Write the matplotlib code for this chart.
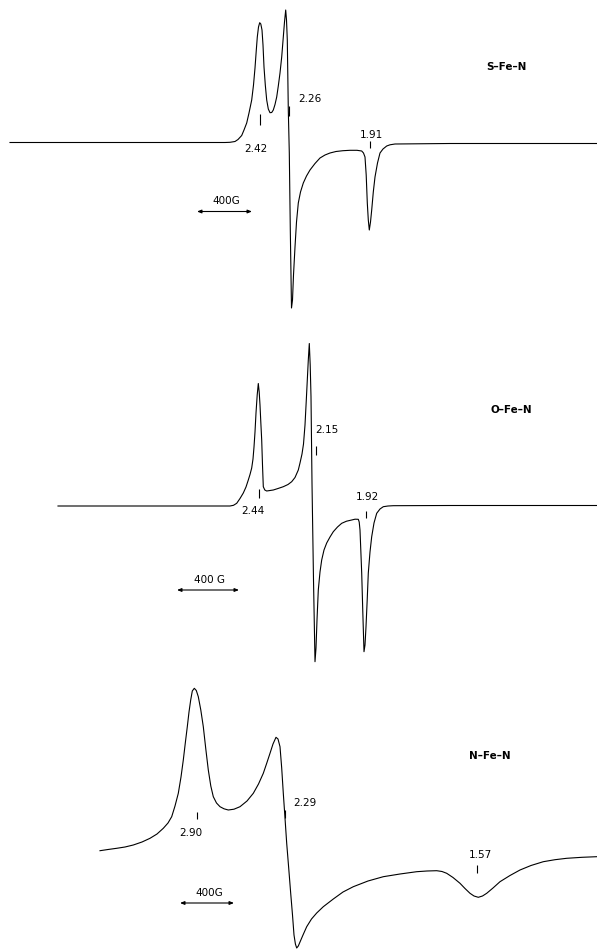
"""
EPR spectra of three Fe complexes (S-Fe-N, O-Fe-N, N-Fe-N), digitised trace by trace.
"""

import matplotlib
matplotlib.use('Agg')
import matplotlib.pyplot as plt

# --- traced spectra (field position, signal), picture units ---
s_fe_n_x = [10, 150, 225, 230, 235, 238, 241.7, 244, 246.7, 249, 251.7, 253.5, 255,
            256.3, 257.3, 258.5, 259.7, 260.8, 262, 263, 264, 265.3, 266.7, 268.3,
            270, 271.7, 273.3, 275, 276.7, 278.3, 280, 281.7, 283.3, 284.5, 285.7,
            286.5, 287.3, 288.3, 289.3, 290.3, 291.5, 292.5, 293.5, 295, 296.5,
            298.3, 300.5, 303.3, 306.5, 310, 315, 320, 325, 330, 336, 343, 350, 357,
            361.7, 363.5, 365, 366.2, 367.3, 368.3, 369.3, 370.5, 371.7, 373.3,
            375, 377.5, 380, 383, 386.7, 390, 395, 450, 597]
s_fe_n_y = [142.5, 142.5, 142.5, 142.3, 141.5, 139.5, 135.5, 130, 123, 113, 100, 85, 68,
            50, 37, 27, 22.7, 24, 30, 45, 67, 85, 100, 109,
            112.7, 112.5, 110, 104.5, 97, 86, 73, 57, 37, 22, 10,
            20, 40, 110, 153, 230, 308, 300, 275, 247, 222,
            203, 192, 183, 176, 170, 163.5, 158, 155, 153, 151.5, 150.7, 150.3, 150.3,
            151, 153, 157, 175, 203, 220, 230, 222, 210, 192,
            177, 163, 153, 149, 146, 144.8, 144, 143.5, 143.5]

o_fe_n_x = [58, 150, 230, 233.5, 236.7, 240, 243.3, 246, 248.3, 250, 251.7, 253, 254,
            255, 256, 257.2, 258.3, 259.2, 260, 260.8, 261.7, 262.5, 263.3, 264.8,
            266.7, 270, 273.3, 278, 283.3, 288, 291.7, 295, 298.3, 300, 302, 303.5,
            305, 306.3, 307.3, 308.3, 309.3, 310.2, 311, 312, 313.5, 315, 316, 317,
            318.3, 320, 321.7, 324, 326.7, 330, 333.3, 337.5, 341.7, 346.5, 351.7,
            355, 358.3, 359.2, 360, 360.8, 361.7, 362.8, 364, 365, 366, 367.2, 368.3,
            370, 371.7, 374, 376.7, 380, 383.3, 388, 393.3, 450, 597]
o_fe_n_y = [506, 506, 506, 505.3, 503.3, 498.5, 493, 487, 480, 474.5, 468, 459, 447,
            432, 413, 395, 383.5, 392, 405, 422, 440, 465, 486.7, 490,
            491, 490.5, 490, 488.5, 486.7, 484.5, 481.7, 477.5, 470, 463, 454, 444,
            425, 400, 380, 360, 343.5, 365, 396.7, 483, 580, 661.7, 648, 620,
            590, 572, 560, 550, 543, 537, 531.7, 527, 523.3, 521.2, 520,
            519.2, 519.3, 522, 530, 550, 573, 612, 651.7, 645, 626.7, 600, 573,
            552, 536.7, 523, 513.3, 509, 506.7, 506, 505.7, 505.5, 505.5]

n_fe_n_x = [100, 108, 116.7, 125, 133.3, 142, 150, 157, 163.3, 168, 171.7, 175, 178.3,
            181, 183.3, 185.3, 187.3, 189, 190.7, 192.3, 194.3, 196.3, 198.3, 200.8,
            203.3, 205.8, 208.3, 210.8, 213.3, 216.5, 220, 224, 228.3, 234, 240, 247,
            253.3, 258.5, 263.3, 266.8, 270, 273, 276, 278, 280, 281.7, 283.3, 285,
            286.7, 288.7, 290.7, 292.5, 294, 295.4, 296.7, 298.3, 300, 303, 306.7,
            311.5, 316.7, 323.3, 333.3, 343, 353.3, 368, 383.3, 400, 416.7, 427,
            436.7, 442, 446.7, 453, 460, 465, 470, 474, 478.3, 482.5, 486.7, 493,
            500, 510, 520, 531, 543.3, 555, 566.7, 582, 596.7]
n_fe_n_y = [850.7, 849.5, 848.3, 847, 845, 842, 838.3, 834, 828.3, 823, 816.7, 806, 793.3,
            777, 760, 743, 726.7, 712, 700, 691, 688.3, 690.5, 696.7, 710,
            726.7, 749, 770, 786, 796.7, 803, 806.7, 808.8, 810, 809.2, 806.7, 801,
            793.3, 784, 773.3, 763, 753.3, 744, 737.3, 739, 746.7, 768, 793.3, 818,
            843.3, 868, 893.3, 915, 935, 944, 948, 946, 942, 935, 926.7,
            919, 913, 906.7, 899, 892, 886.7, 881, 876.7, 874, 871.7, 871,
            870.7, 871.5, 873.3, 877.5, 883.3, 888.5, 893.3, 896, 897.3, 896, 893.3, 888,
            881.7, 875.5, 870, 865.5, 861.7, 859.7, 858.3, 857.3, 856.7]

traces = [(s_fe_n_x, s_fe_n_y), (o_fe_n_x, o_fe_n_y), (n_fe_n_x, n_fe_n_y)]

# g-value labels: text, x, y
g_labels = ['2.42', '2.26', '1.91', '2.44', '2.15', '1.92', '2.90', '2.29', '1.57']
g_label_x = [256, 310, 371, 253, 327, 367, 191, 305, 480]
g_label_y = [149, 99, 135, 511, 430, 497, 833, 803, 855]

# small tick marks beside the g values: x, y top, y bottom
g_tick_x = [260, 288.5, 370, 258.5, 316, 365.5, 196.7, 285, 477]
g_tick_y0 = [114, 106, 141, 489, 446, 511, 812, 810, 865]
g_tick_y1 = [125, 116, 148, 498, 455, 518, 819, 818, 873]

# complex names
names = ['S–Fe–N', 'O–Fe–N', 'N–Fe–N']
name_x = [506, 511, 490]
name_y = [67, 410, 756]

# 400 G scale bars: left, right, y of bar
bar_x0 = [197, 177, 180]
bar_x1 = [252, 239, 234]
bar_y = [211.5, 590, 903]
bar_text = ['400G', '400 G', '400G']


fig = plt.figure(figsize=(5.97, 9.51), dpi=100)
ax = fig.add_axes([0, 0, 1, 1])
ax.set_xlim(0, 597)
ax.set_ylim(951, 0)
ax.axis('off')

for tx, ty in traces:
    ax.plot(tx, ty, color='black', linewidth=0.8, solid_joinstyle='round')

for lab, lx, ly in zip(g_labels, g_label_x, g_label_y):
    ax.text(lx, ly, lab, fontsize=7.5, ha='center', va='center', color='black')

ax.vlines(g_tick_x, g_tick_y0, g_tick_y1, color='black', linewidth=0.8)

for nm, nx, ny in zip(names, name_x, name_y):
    ax.text(nx, ny, nm, fontsize=7.5, fontweight='bold', ha='center', va='center')

for x0, x1, by, bt in zip(bar_x0, bar_x1, bar_y, bar_text):
    ax.annotate('', xy=(x1, by), xytext=(x0, by),
                arrowprops=dict(arrowstyle='<|-|>,head_length=0.25,head_width=0.1',
                                color='black', lw=0.8, shrinkA=0, shrinkB=0))
    ax.text((x0 + x1) / 2 + 2, by - 10, bt, fontsize=7.5, ha='center', va='center')

plt.savefig('out.png', dpi=100)
plt.close()
